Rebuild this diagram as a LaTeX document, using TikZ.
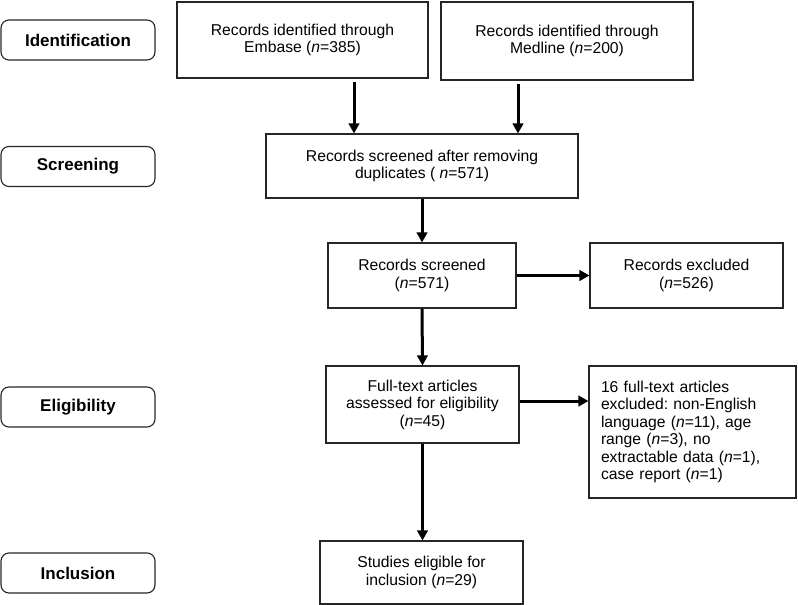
\documentclass[tikz,border=0pt]{standalone}
\usepackage{fontspec}
\setmainfont{Liberation Sans}
\frenchspacing
\usetikzlibrary{arrows.meta,positioning,calc}
\begin{document}
\begin{tikzpicture}[x=1pt,y=-1pt,
  stage/.style={draw=black!85,line width=1.1pt,rounded corners=8pt,minimum width=154pt,minimum height=40pt,font=\fontsize{17}{19}\selectfont\bfseries,inner sep=0pt},
  box/.style={draw=black!85,line width=1.1pt,align=center,font=\fontsize{15.7}{17.5}\selectfont\frenchspacing,inner sep=0pt},
  arr/.style={line width=3pt,-{Triangle[length=10pt,width=10.5pt]},shorten <=3pt}]
\useasboundingbox (0,0) rectangle (798,605);
\node[stage] (id) at (78,40) {Identification};
\node[stage] (scr) at (78,166.5) {Screening};
\node[stage] (elig) at (78,407) {Eligibility};
\node[stage] (incl) at (78,573) {Inclusion};

\node[box,minimum width=251pt,minimum height=76pt] (embase) at (302.5,40) {Records identified through\\Embase (\textit{n}=385)};
\node[box,minimum width=252pt,minimum height=78pt] (medline) at (567,41) {Records identified through\\Medline (\textit{n}=200)};
\node[box,minimum width=312pt,minimum height=64pt] (dup) at (422,166) {Records screened after removing\\duplicates ( \textit{n}=571)};
\node[box,minimum width=188pt,minimum height=65pt] (screened) at (422,275.5) {Records screened\\(\textit{n}=571)};
\node[box,minimum width=193pt,minimum height=65pt] (excluded) at (686.5,275.5) {Records excluded\\(\textit{n}=526)};
\node[box,minimum width=193pt,minimum height=77pt] (full) at (422.5,404.5) {Full-text articles\\assessed for eligibility\\(\textit{n}=45)};
\node[box,minimum width=207pt,minimum height=132pt,align=left,text width=183pt] (ex16) at (692.5,432) {16 full-text articles\\excluded: non-English\\language (\textit{n}=11), age\\range (\textit{n}=3), no\\extractable data (\textit{n}=1),\\case report (\textit{n}=1)};
\node[box,minimum width=203pt,minimum height=63pt] (studies) at (421.5,572.5) {Studies eligible for\\inclusion (\textit{n}=29)};

\draw[arr] ([xshift=51.5pt]embase.south) -- ([xshift=51.5pt]embase.south |- dup.north);
\draw[arr] ([xshift=-49pt]medline.south) -- ([xshift=-49pt]medline.south |- dup.north);
\draw[arr,shorten <=0pt] (dup.south) -- (screened.north);
\draw[arr,shorten <=0pt] (screened.east) -- (excluded.west);
\draw[arr,shorten <=0pt] (screened.south) -- (full.north);
\draw[arr,shorten <=0pt] ([yshift=3.5pt]full.east) -- ([yshift=3.5pt]full.east -| ex16.west);
\draw[arr,shorten <=0pt] (full.south) -- (full.south |- studies.north);
\end{tikzpicture}
\end{document}
